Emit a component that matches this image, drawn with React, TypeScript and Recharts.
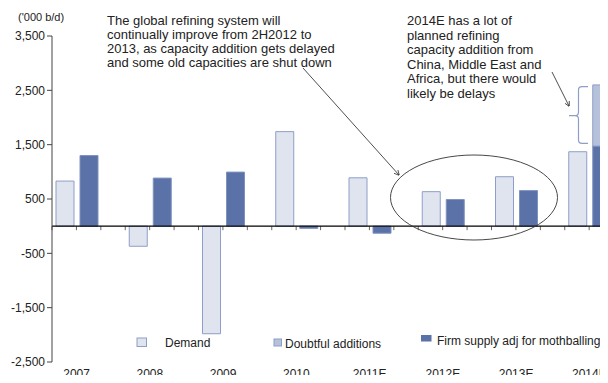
import React from 'react';
import { BarChart, Bar, XAxis, YAxis, ReferenceLine } from 'recharts';

const categories = ['2007', '2008', '2009', '2010', '2011E', '2012E', '2013E', '2014E'];
const demand = [830, -370, -1980, 1740, 890, 635, 910, 1370];
const firmSupply = [1300, 885, 995, -40, -130, 490, 655, 1475];
const doubtfulAdditions = [null, null, null, null, null, null, null, 1125];
const yTicks = [-2500, -1500, -500, 500, 1500, 2500, 3500];

const note1 = [
  'The global refining system will',
  'continually improve from 2H2012 to',
  '2013, as capacity addition gets delayed',
  'and some  old capacities are shut down',
];
const note2 = [
  '2014E has a lot of',
  'planned refining',
  'capacity addition from',
  'China,  Middle East and',
  'Africa, but there would',
  'likely be delays',
];

const DEMAND_FILL = '#E0E4EF';
const DEMAND_STROKE = '#8E9EC8';
const FIRM_FILL = '#5B72A8';
const DOUBT_FILL = '#B6C1DA';
const FONT = '"Liberation Sans", Arial, sans-serif';

const data = categories.map((name, i) => ({
  name,
  demand: demand[i],
  firm: firmSupply[i],
  doubtful: doubtfulAdditions[i],
  gap: null,
}));

const XTick = ({ x, y, payload }: any) => (
  <text x={x - 12} y={y - 1} dy="0.75em" textAnchor="middle" fontSize={12} fill="#222" fontFamily={FONT}>
    {payload.value}
  </text>
);

// zero line with small ticks, three per category (one per bar slot)
const ZeroLine = ({ x1, y1, x2 }: any) => {
  const step = (x2 - x1) / (categories.length * 3);
  const marks = [];
  for (let i = 0; i <= categories.length * 3; i++) {
    const x = x1 + i * step;
    marks.push(<line key={i} x1={x} y1={y1} x2={x} y2={y1 + 4} stroke="#666" strokeWidth={1} />);
  }
  return (
    <g>
      {marks}
      <line x1={x1} y1={y1} x2={x2} y2={y1} stroke="#000" strokeWidth={1.2} />
    </g>
  );
};

export default function App() {
  return (
    <div style={{ position: 'relative', width: 608, height: 383, overflow: 'hidden', margin: -8, background: '#fff' }}>
      <BarChart
        width={640}
        height={383}
        data={data}
        margin={{ top: 36, right: 2, left: 0, bottom: 0 }}
        barSize={18}
        barGap={6}
      >
        <YAxis
          width={52}
          domain={[-2500, 3500]}
          ticks={yTicks}
          interval={0}
          allowDataOverflow
          axisLine={{ stroke: '#444' }}
          tickLine={{ stroke: '#444' }}
          tickSize={5}
          tick={{ fontSize: 12, fill: '#222', fontFamily: FONT }}
          tickFormatter={(v: number) => v.toLocaleString('en-US')}
        />
        <XAxis dataKey="name" height={21} axisLine={false} tickLine={false} interval={0} tick={<XTick />} />
        <Bar dataKey="demand" stackId="a" fill={DEMAND_FILL} stroke={DEMAND_STROKE} strokeWidth={1} isAnimationActive={false} />
        <Bar dataKey="firm" stackId="b" fill={FIRM_FILL} stroke="#7F92BE" strokeWidth={1} isAnimationActive={false} />
        <Bar dataKey="doubtful" stackId="b" fill={DOUBT_FILL} stroke="#8E9EC8" strokeWidth={1} isAnimationActive={false} />
        <Bar dataKey="gap" stackId="c" fill="none" legendType="none" isAnimationActive={false} />
        <ReferenceLine y={0} shape={<ZeroLine />} />
      </BarChart>

      <svg width={608} height={383} style={{ position: 'absolute', left: 0, top: 0, pointerEvents: 'none' }} fontFamily={FONT}>
        <defs>
          <marker id="arr" viewBox="0 0 10 10" refX="9" refY="5" markerWidth="7" markerHeight="7" orient="auto">
            <path d="M0,0 L10,5 L0,10" fill="none" stroke="#222" strokeWidth={1.3} />
          </marker>
        </defs>
        <text x={18} y={21} fontSize={11} fill="#222">('000 b/d)</text>
        <text fontSize={13} fill="#222">
          {note1.map((t, i) => (
            <tspan key={i} x={107} y={25 + i * 14}>{t}</tspan>
          ))}
        </text>
        <text fontSize={13} fill="#222">
          {note2.map((t, i) => (
            <tspan key={i} x={407} y={25 + i * 14.5}>{t}</tspan>
          ))}
        </text>
        <line x1={303} y1={68} x2={399} y2={175} stroke="#222" strokeWidth={0.8} markerEnd="url(#arr)" />
        <line x1={552} y1={72} x2={569} y2={106} stroke="#222" strokeWidth={0.8} markerEnd="url(#arr)" />
        <ellipse cx={474} cy={197.5} rx={83.5} ry={42.5} fill="none" stroke="#333" strokeWidth={0.9} />
        <path d="M588,86.7 H582 Q578.5,86.7 578.5,90 V112 Q578.5,115.7 575,115.7 H569 M575,115.7 Q578.5,115.7 578.5,119 V140 Q578.5,143.3 582,143.3 H588" fill="none" stroke={DEMAND_STROKE} strokeWidth={1.2} />

        <rect x={137} y={338} width={9.5} height={8.5} fill={DEMAND_FILL} stroke={DEMAND_STROKE} />
        <text x={165} y={347} fontSize={12} fill="#222">Demand</text>
        <rect x={274} y={339} width={7.5} height={7} fill={DOUBT_FILL} stroke={DEMAND_STROKE} />
        <text x={285} y={348} fontSize={12} fill="#222">Doubtful additions</text>
        <rect x={421} y={335} width={10.5} height={6.5} fill={FIRM_FILL} />
        <text x={437} y={345} fontSize={12} fill="#222">Firm supply adj for mothballing</text>
      </svg>
    </div>
  );
}
